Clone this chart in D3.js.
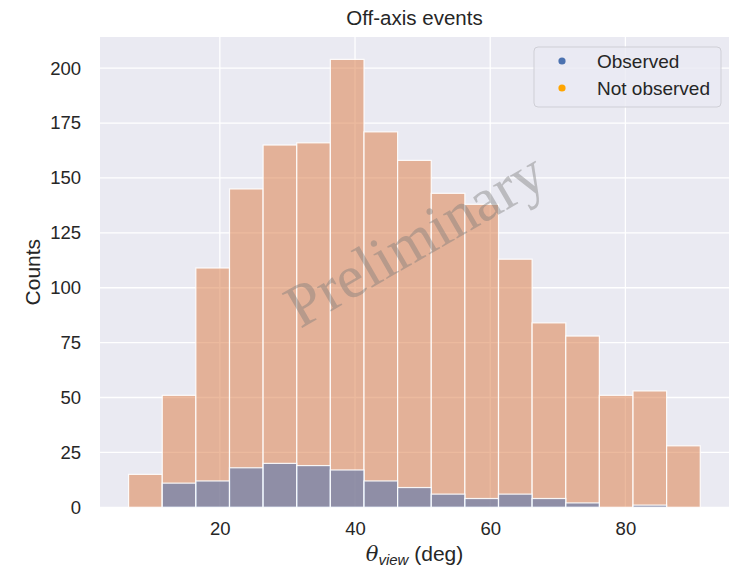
<!DOCTYPE html>
<html>
<head>
<meta charset="utf-8">
<script src="https://cdn.jsdelivr.net/npm/d3@7"></script>
<style>
  body { margin: 0; background: #fff; }
  svg { display: block; font-family: 'Liberation Sans', Arial, sans-serif; }
</style>
</head>
<body>
<svg id="chart" width="730" height="569"></svg>
<script>
// bin edges (deg) and counts per bin
const binEdges = [6.5, 11.48, 16.45, 21.43, 26.4, 31.38, 36.35, 41.33, 46.3, 51.28,
  56.25, 61.23, 66.2, 71.18, 76.15, 81.13, 86.1, 91.08];
const notObserved = [15, 51, 109, 145, 165, 166, 204, 171, 158, 143, 138, 113, 84, 78, 51, 53, 28];
const observed = [0, 11, 12, 18, 20, 19, 17, 12, 9, 6, 4, 6, 4, 2, 0, 1, 0];
const xTicks = [20, 40, 60, 80];
const yTicks = [0, 25, 50, 75, 100, 125, 150, 175, 200];
const seriesNames = ['Observed', 'Not observed'];
const seriesColors = ['#4c72b0', '#ffa500'];

const plot = { left: 100, right: 729, top: 37, bottom: 507.3 };

const svg = d3.select('#chart');

const x = d3.scaleLinear().domain([2.27, 95.33]).range([plot.left, plot.right]);
const y = d3.scaleLinear().domain([0, 214.2]).range([plot.bottom, plot.top]);

//background + grid
svg.append('rect')
  .attr('x', plot.left)
  .attr('y', plot.top)
  .attr('width', plot.right - plot.left)
  .attr('height', plot.bottom - plot.top)
  .attr('fill', '#eaeaf2');

const grid = svg.append('g').attr('stroke', '#fff').attr('stroke-width', 1.3);
grid.selectAll('line.h')
  .data(yTicks)
  .enter()
  .append('line')
  .attr('x1', plot.left)
  .attr('x2', plot.right)
  .attr('y1', d => y(d))
  .attr('y2', d => y(d));
grid.selectAll('line.v')
  .data(xTicks)
  .enter()
  .append('line')
  .attr('y1', plot.top)
  .attr('y2', plot.bottom)
  .attr('x1', d => x(d))
  .attr('x2', d => x(d));

//bars: not observed first, observed layered on top
const bins = notObserved.map((v, i) => ({
  x0: binEdges[i],
  x1: binEdges[i + 1],
  notObs: v,
  obs: observed[i]
}));

function drawBars(key, color) {
  svg.append('g')
    .selectAll('rect')
    .data(bins.filter(d => d[key] > 0))
    .enter()
    .append('rect')
    .attr('x', d => x(d.x0))
    .attr('width', d => x(d.x1) - x(d.x0))
    .attr('y', d => y(d[key]))
    .attr('height', d => y(0) - y(d[key]))
    .attr('fill', color)
    .attr('fill-opacity', 0.56)
    .attr('stroke', '#fff')
    .attr('stroke-opacity', 0.9)
    .attr('stroke-width', 1.2);
}
drawBars('notObs', '#dd8452');
drawBars('obs', '#4c72b0');

//axes (labels only, seaborn style)
const xAxis = svg.append('g')
  .attr('transform', 'translate(0,' + plot.bottom + ')')
  .call(d3.axisBottom(x).tickValues(xTicks).tickSize(0).tickPadding(15));
const yAxis = svg.append('g')
  .attr('transform', 'translate(' + plot.left + ',0)')
  .call(d3.axisLeft(y).tickValues(yTicks).tickSize(0).tickPadding(19));
[xAxis, yAxis].forEach(a => {
  a.select('.domain').remove();
  a.selectAll('text')
    .attr('fill', '#262626')
    .style('font-size', '18.5px')
    .style('font-family', "'Liberation Sans', Arial, sans-serif");
});

//watermark
svg.append('text')
  .attr('transform', 'translate(425,257) rotate(-30)')
  .attr('text-anchor', 'middle')
  .style('font-family', "'Liberation Serif', 'Times New Roman', serif")
  .style('font-size', '61px')
  .attr('fill', '#7a7a7a')
  .attr('fill-opacity', 0.42)
  .text('Preliminary');

//title and axis labels
svg.append('text')
  .attr('x', (plot.left + plot.right) / 2)
  .attr('y', 25)
  .attr('text-anchor', 'middle')
  .attr('fill', '#262626')
  .style('font-size', '20.5px')
  .text('Off-axis events');

svg.append('text')
  .attr('transform', 'translate(40,' + (plot.top + plot.bottom) / 2 + ') rotate(-90)')
  .attr('text-anchor', 'middle')
  .attr('fill', '#262626')
  .style('font-size', '21px')
  .text('Counts');

const xl = svg.append('text')
  .attr('x', (plot.left + plot.right) / 2)
  .attr('y', 561)
  .attr('text-anchor', 'middle')
  .attr('fill', '#262626')
  .style('font-size', '21px');
xl.append('tspan').style('font-style', 'italic').style('font-family', "'DejaVu Serif', serif").text('θ');
xl.append('tspan')
  .attr('dy', 4)
  .style('font-style', 'italic')
  .style('font-size', '15px')
  .text('view');
xl.append('tspan').attr('dy', -4).text(' (deg)');

//legend
const legend = svg.append('g').attr('transform', 'translate(534,47)');
legend.append('rect')
  .attr('width', 187)
  .attr('height', 60)
  .attr('rx', 4)
  .attr('fill', '#eaeaf2')
  .attr('fill-opacity', 0.8)
  .attr('stroke', '#cfcfd6')
  .attr('stroke-width', 1);
const item = legend.selectAll('g.item')
  .data(seriesNames)
  .enter()
  .append('g')
  .attr('transform', (d, i) => 'translate(0,' + (14 + i * 27) + ')');
item.append('circle')
  .attr('cx', 28)
  .attr('cy', 0)
  .attr('r', 3.6)
  .attr('fill', (d, i) => seriesColors[i]);
item.append('text')
  .attr('x', 63)
  .attr('y', 7)
  .attr('fill', '#262626')
  .style('font-size', '19px')
  .text(d => d);
</script>
</body>
</html>
